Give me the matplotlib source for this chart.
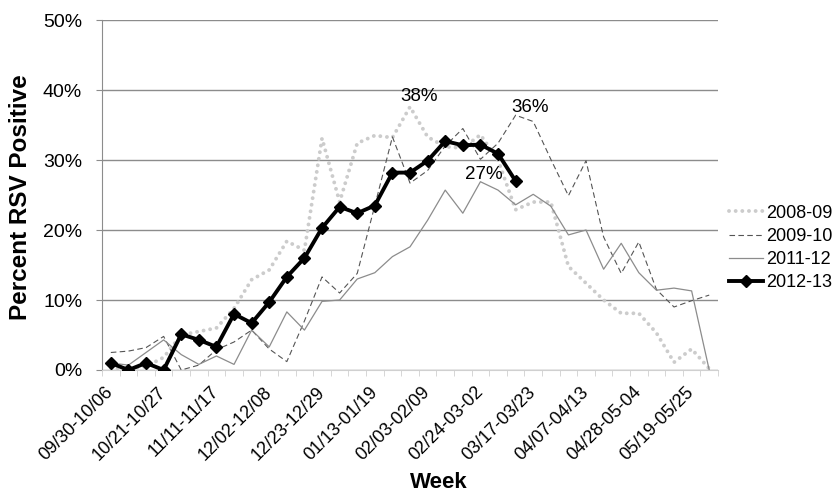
import matplotlib
matplotlib.use('Agg')
import matplotlib.pyplot as plt
from matplotlib.ticker import FuncFormatter

plt.rcParams['font.family'] = ['Liberation Sans', 'DejaVu Sans']

# weekly RSV percent positive, weeks starting 09/30
weeks = ['09/30-10/06', '10/07-10/13', '10/14-10/20', '10/21-10/27', '10/28-11/03',
         '11/04-11/10', '11/11-11/17', '11/18-11/24', '11/25-12/01', '12/02-12/08',
         '12/09-12/15', '12/16-12/22', '12/23-12/29', '12/30-01/05', '01/06-01/12',
         '01/13-01/19', '01/20-01/26', '01/27-02/02', '02/03-02/09', '02/10-02/16',
         '02/17-02/23', '02/24-03-02', '03/03-03/09', '03/10-03/16', '03/17-03/23',
         '03/24-03/30', '03/31-04/06', '04/07-04/13', '04/14-04/20', '04/21-04/27',
         '04/28-05-04', '05/05-05/11', '05/12-05/18', '05/19-05/25', '05/26-06/01']

s0809 = [0.3, 0.2, 0.5, 1.8, 5.0, 5.5, 6.0, 8.8, 12.9, 14.3, 18.4, 17.1, 33.1, 24.0,
         32.4, 33.5, 33.2, 37.6, 33.3, 31.9, 31.7, 33.6, 30.0, 22.9, 24.0, 24.0, 14.8,
         12.4, 10.0, 8.1, 8.1, 5.3, 1.1, 3.0, 0.2]
s0910 = [2.5, 2.7, 3.2, 4.8, 0.0, 0.7, 2.9, 4.0, 5.7, 3.0, 1.2, 7.0, 13.3, 11.0,
         13.8, 23.5, 33.3, 26.7, 28.5, 32.0, 34.5, 30.1, 32.4, 36.4, 35.5, 30.1, 24.9,
         29.9, 19.0, 13.8, 18.3, 11.5, 9.0, 9.9, 10.7]
s1112 = [1.0, 0.7, 2.5, 4.3, 2.2, 0.8, 2.0, 0.8, 5.7, 3.3, 8.3, 5.7, 9.8, 10.0,
         13.0, 13.9, 16.2, 17.6, 21.4, 25.7, 22.4, 26.9, 25.7, 23.6, 25.1, 23.4, 19.3,
         20.0, 14.4, 18.1, 13.9, 11.4, 11.7, 11.3, 0.0]
s1213 = [1.0, 0.0, 1.0, 0.0, 5.1, 4.3, 3.3, 8.0, 6.7, 9.7, 13.3, 16.0, 20.3, 23.3,
         22.4, 23.5, 28.2, 28.2, 29.9, 32.7, 32.1, 32.2, 30.9, 27.0]

fig = plt.figure(figsize=(8.35, 4.93), dpi=100)
ax = fig.add_axes([0.1222, 0.2495, 0.7377, 0.7099])

x = list(range(len(weeks)))

ax.plot(x, s0809, color='#cccccc', lw=2.8, linestyle=(0, (0.01, 1.7)),
        dash_capstyle='round', label='2008-09', zorder=2)
ax.plot(x, s0910, color='#555555', lw=0.8, linestyle=(0, (5, 3)),
        label='2009-10', zorder=3)
ax.plot(x, s1112, color='#8c8c8c', lw=0.9, label='2011-12', zorder=3)
ax.plot(x[:len(s1213)], s1213, color='black', lw=2.8, marker='D', markersize=6,
        label='2012-13', zorder=5)

# peak labels
for s, i, off in [(s0809, 17, (9, 10)), (s0910, 23, (14, 8)), (s1112, 21, (3, 7))]:
    ax.annotate(f'{round(s[i])}%', xy=(i, s[i]), xytext=off, textcoords='offset pixels',
                ha='center', va='center', fontsize=13.5, zorder=6)

ax.set_xlim(-0.5, len(weeks) - 0.5)
ax.set_ylim(0, 50)
ax.set_yticks(range(0, 51, 10))
ax.yaxis.set_major_formatter(FuncFormatter(lambda v, p: f'{int(v)}%'))
ax.grid(axis='y', color='#8c8c8c', lw=1.0)
ax.set_axisbelow(True)

ax.set_xticks(x[::3])
ax.set_xticklabels(weeks[::3], rotation=45, ha='right', va='center',
                   rotation_mode='anchor', fontsize=13)
ax.set_xticks([i - 0.5 for i in x] + [len(weeks) - 0.5], minor=True)
ax.tick_params(axis='x', which='major', length=0, pad=14)
ax.tick_params(axis='x', which='minor', length=4, color='#d0d0d0')
ax.tick_params(axis='y', length=4.3, color='#8c8c8c', labelsize=14, pad=10)

for side in ['top', 'right']:
    ax.spines[side].set_visible(False)
ax.spines['left'].set_color('#8c8c8c')
ax.spines['bottom'].set_color('#d0d0d0')

fig.text(0.024, 1 - 197 / 493, 'Percent RSV Positive', rotation=90, ha='center',
         va='center', fontsize=17.5, fontweight='bold')
fig.text(439 / 835, 1 - 483 / 493, 'Week', ha='center', va='center',
         fontsize=16, fontweight='bold')

ax.legend(loc='center left', bbox_to_anchor=(729 / 835, 1 - 248 / 493),
          bbox_transform=fig.transFigure, frameon=False, fontsize=13,
          handlelength=1.9, handletextpad=0.15, borderpad=0, borderaxespad=0,
          labelspacing=0.35)

fig.savefig('out.png', dpi=100)
